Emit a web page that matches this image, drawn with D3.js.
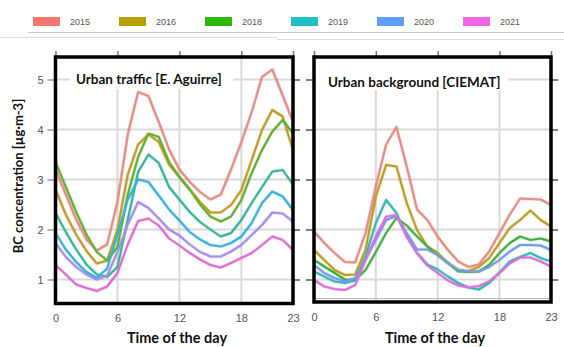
<!DOCTYPE html>
<html>
<head>
<meta charset="utf-8">
<script src="https://cdn.jsdelivr.net/npm/d3@7"></script>
<style>
  html, body { margin: 0; padding: 0; background: #fff; }
  svg { display: block; }
</style>
</head>
<body>
<svg id="chart" width="564" height="347"></svg>
<script>
// Hour of day (x categories) and tick labels
const hours = d3.range(24);
const xTickValues = [0, 6, 12, 18, 23];
const yTickValues = [1, 2, 3, 4, 5];

// Legend entries
const legendYears = ["2015", "2016", "2018", "2019", "2020", "2021"];
const legendColors = ["#F8766D", "#B79F00", "#2DB800", "#21BEC4", "#619CFF", "#F066E6"];

// Urban traffic station [E. Aguirre], mean BC by hour (µg·m-3)
const trafficYears = ["2015", "2016", "2017", "2018", "2019", "2020", "2021"];
const trafficColors = ["#EC8A80", "#C29B1E", "#5CB426", "#2DB897", "#2FB4E6", "#A88CF2", "#E468D6"];
const traffic2015 = [3.20, 2.70, 2.20, 1.80, 1.58, 1.70, 2.55, 3.90, 4.75, 4.67, 4.15, 3.60, 3.20, 2.95, 2.75, 2.60, 2.70, 3.20, 3.75, 4.35, 5.05, 5.20, 4.68, 4.15];
const traffic2016 = [2.80, 2.30, 1.90, 1.57, 1.32, 1.38, 2.00, 3.10, 3.70, 3.90, 3.75, 3.30, 3.05, 2.80, 2.55, 2.34, 2.34, 2.49, 2.79, 3.39, 3.99, 4.39, 4.26, 3.59];
const traffic2017 = [3.35, 2.85, 2.35, 1.90, 1.55, 1.38, 1.65, 2.70, 3.45, 3.92, 3.85, 3.35, 3.05, 2.80, 2.50, 2.26, 2.16, 2.26, 2.59, 3.13, 3.59, 3.96, 4.19, 3.92];
const traffic2018 = [2.33, 1.95, 1.60, 1.30, 1.10, 1.05, 1.25, 2.20, 3.15, 3.50, 3.33, 2.85, 2.60, 2.35, 2.15, 2.00, 1.86, 1.93, 2.19, 2.53, 2.85, 3.16, 3.19, 2.90];
const traffic2019 = [1.93, 1.60, 1.35, 1.15, 1.03, 1.22, 1.90, 2.60, 3.00, 2.95, 2.68, 2.40, 2.18, 1.95, 1.80, 1.69, 1.66, 1.73, 1.86, 2.13, 2.53, 2.76, 2.66, 2.39];
const traffic2020 = [1.73, 1.45, 1.25, 1.10, 1.00, 1.08, 1.55, 2.10, 2.55, 2.43, 2.22, 2.00, 1.88, 1.70, 1.55, 1.46, 1.46, 1.56, 1.69, 1.89, 2.09, 2.34, 2.32, 2.16];
const traffic2021 = [1.29, 1.10, 0.90, 0.83, 0.77, 0.86, 1.13, 1.70, 2.17, 2.22, 2.08, 1.82, 1.68, 1.53, 1.40, 1.29, 1.24, 1.33, 1.43, 1.53, 1.69, 1.86, 1.79, 1.59];

// Urban background station [CIEMAT], mean BC by hour (µg·m-3)
const backgroundYears = ["2015", "2016", "2018", "2019", "2020", "2021"];
const backgroundColors = ["#EC8A80", "#BCA012", "#3DB23A", "#2EB9BF", "#6E9DF0", "#E26BDE"];
const background2015 = [1.96, 1.73, 1.53, 1.35, 1.34, 1.93, 2.86, 3.70, 4.05, 3.26, 2.40, 2.19, 1.86, 1.59, 1.36, 1.25, 1.30, 1.56, 1.93, 2.30, 2.62, 2.61, 2.60, 2.49];
const background2016 = [1.59, 1.39, 1.19, 1.09, 1.10, 1.59, 2.66, 3.29, 3.26, 2.53, 1.99, 1.66, 1.53, 1.33, 1.19, 1.17, 1.25, 1.43, 1.73, 2.03, 2.19, 2.38, 2.19, 2.06];
const background2018 = [1.39, 1.26, 1.13, 1.00, 0.99, 1.19, 1.55, 1.93, 2.23, 2.08, 1.86, 1.66, 1.49, 1.33, 1.16, 1.15, 1.16, 1.29, 1.53, 1.73, 1.86, 1.79, 1.82, 1.76];
const background2019 = [1.16, 1.06, 0.96, 0.93, 0.98, 1.46, 2.13, 2.59, 2.33, 1.86, 1.53, 1.30, 1.20, 1.06, 0.93, 0.84, 0.80, 0.93, 1.14, 1.36, 1.45, 1.53, 1.43, 1.36];
const background2020 = [1.29, 1.13, 1.03, 0.96, 1.03, 1.40, 1.79, 2.19, 2.27, 1.93, 1.60, 1.60, 1.49, 1.33, 1.19, 1.16, 1.16, 1.25, 1.39, 1.56, 1.69, 1.69, 1.68, 1.59];
const background2021 = [0.99, 0.86, 0.81, 0.79, 0.89, 1.39, 1.86, 2.26, 2.29, 1.86, 1.53, 1.28, 1.13, 0.98, 0.88, 0.84, 0.87, 0.96, 1.13, 1.32, 1.44, 1.44, 1.36, 1.26];

const trafficSeries = [traffic2015, traffic2016, traffic2017, traffic2018, traffic2019, traffic2020, traffic2021];
const backgroundSeries = [background2015, background2016, background2018, background2019, background2020, background2021];

const svg = d3.select("#chart");
const GRID = "#d9d9d9";
const LABEL_FONT = "Lato, 'Open Sans', sans-serif";

// ---- legend strip ----
const legendScale = d3.scalePoint().domain(legendYears).range([33, 463]);
const legend = svg.append("g");
legend.selectAll("rect").data(legendYears).join("rect")
  .attr("x", d => legendScale(d)).attr("y", 17)
  .attr("width", 27).attr("height", 9)
  .attr("fill", (d, i) => legendColors[i]);
legend.selectAll("text").data(legendYears).join("text")
  .attr("x", d => legendScale(d) + 37).attr("y", 24.5)
  .attr("font-family", "'Liberation Sans', Arial, sans-serif")
  .attr("font-size", 9).attr("fill", "#555")
  .text(d => d);
svg.append("line").attr("x1", 28).attr("x2", 564).attr("y1", 32.5).attr("y2", 32.5)
  .attr("stroke", "#c8c8c8").attr("stroke-width", 1);
svg.append("line").attr("x1", 0).attr("x2", 277).attr("y1", 37.5).attr("y2", 37.5)
  .attr("stroke", "#dcdcdc").attr("stroke-width", 1);
svg.append("line").attr("x1", 277).attr("x2", 564).attr("y1", 39.5).attr("y2", 39.5)
  .attr("stroke", "#dcdcdc").attr("stroke-width", 1);

// ---- one panel ----
function drawPanel(opts) {
  const { left, right, top, bottom, series, colors, title, titleBox, showYLabels } = opts;
  const x = d3.scaleLinear().domain([0, 23]).range([left, right]);
  const y = d3.scaleLinear().domain([opts.yMin, 5.45]).range([bottom, top]);
  const g = svg.append("g");

  // grid
  g.append("g").selectAll("line").data(yTickValues).join("line")
    .attr("x1", left).attr("x2", right)
    .attr("y1", d => y(d)).attr("y2", d => y(d))
    .attr("stroke", GRID).attr("stroke-width", 2);
  g.append("g").selectAll("line").data([6, 12, 18]).join("line")
    .attr("x1", d => x(d)).attr("x2", d => x(d))
    .attr("y1", top).attr("y2", bottom)
    .attr("stroke", GRID).attr("stroke-width", 2);

  // white backing behind the panel title
  g.append("rect")
    .attr("x", titleBox[0]).attr("y", top)
    .attr("width", titleBox[1] - titleBox[0]).attr("height", titleBox[2] - top)
    .attr("fill", "#fff");

  if (opts.innerBase) {
    g.append("line").attr("x1", left).attr("x2", right)
      .attr("y1", opts.innerBase).attr("y2", opts.innerBase)
      .attr("stroke", "#bdbdbd").attr("stroke-width", 1.2);
  }

  // axes
  const yAxis = d3.axisLeft(y).tickValues(yTickValues).tickSize(8).tickPadding(4)
    .tickFormat(showYLabels ? d3.format("d") : () => "");
  const ya = g.append("g").attr("transform", `translate(${left},0)`).call(yAxis);
  ya.select(".domain").remove();
  ya.selectAll(".tick line").attr("stroke", showYLabels ? "#9a9a9a" : "#555").attr("stroke-width", 1.5);
  ya.selectAll(".tick text").attr("fill", "#555").attr("font-size", 11)
    .attr("font-family", "'Liberation Sans', Arial, sans-serif");

  const yAxisR = d3.axisRight(y).tickValues(yTickValues).tickSize(7).tickFormat(() => "");
  const yr = g.append("g").attr("transform", `translate(${right},0)`).call(yAxisR);
  yr.select(".domain").remove();
  yr.selectAll(".tick line").attr("stroke", "#555").attr("stroke-width", 1.5);

  const xAxisTop = d3.axisTop(x).tickValues(xTickValues).tickSize(6).tickFormat(() => "");
  const xt = g.append("g").attr("transform", `translate(0,${top})`).call(xAxisTop);
  xt.select(".domain").remove();
  xt.selectAll(".tick line").attr("stroke", "#777").attr("stroke-width", 1.5);

  const xAxis = d3.axisBottom(x).tickValues(xTickValues).tickSize(0).tickPadding(11)
    .tickFormat(d3.format("d"));
  const xa = g.append("g").attr("transform", `translate(0,${bottom})`).call(xAxis);
  xa.select(".domain").remove();
  xa.selectAll(".tick text").attr("fill", "#555").attr("font-size", 11)
    .attr("font-family", "'Liberation Sans', Arial, sans-serif");

  // series lines
  const line = d3.line().x((d, i) => x(hours[i])).y(d => y(d));
  const lines = g.append("g");
  lines.selectAll("path.halo").data(series).join("path")
    .attr("class", "halo")
    .attr("d", line).attr("fill", "none")
    .attr("stroke", "#9a9a9a").attr("stroke-opacity", 0.28)
    .attr("stroke-width", 3.6).attr("stroke-linejoin", "round");
  lines.selectAll("path.series").data(series).join("path")
    .attr("class", "series")
    .attr("d", line).attr("fill", "none")
    .attr("stroke", (d, i) => colors[i])
    .attr("stroke-width", 2.1).attr("stroke-linejoin", "round");

  // frame
  g.append("rect")
    .attr("x", left).attr("y", top)
    .attr("width", right - left).attr("height", bottom - top)
    .attr("fill", "none").attr("stroke", "#000").attr("stroke-width", 3.5);

  // title
  g.append("text")
    .attr("x", opts.titleX).attr("y", opts.titleY)
    .attr("font-family", LABEL_FONT).attr("font-weight", 700)
    .attr("font-size", 13.5).attr("fill", "#111")
    .text(title);

  // x-axis title
  g.append("text")
    .attr("x", opts.xTitleX).attr("y", 343)
    .attr("text-anchor", "middle")
    .attr("font-family", LABEL_FONT).attr("font-weight", 700)
    .attr("font-size", 14.5).attr("fill", "#111")
    .text("Time of the day");
}

drawPanel({
  left: 55.5, right: 293, top: 57, bottom: 303.5, yMin: 0.52,
  series: trafficSeries, colors: trafficColors,
  title: "Urban traffic [E. Aguirre]", titleX: 76, titleY: 84,
  titleBox: [70, 233, 89], showYLabels: true, xTitleX: 177
});
drawPanel({
  left: 314, right: 551, top: 57, bottom: 302, yMin: 0.55,
  series: backgroundSeries, colors: backgroundColors,
  title: "Urban background [CIEMAT]", titleX: 328, titleY: 87,
  titleBox: [316, 508, 90], showYLabels: false, xTitleX: 435, innerBase: 298.5
});

// y-axis title
svg.append("text")
  .attr("transform", "translate(23,176) rotate(-90)")
  .attr("text-anchor", "middle")
  .attr("font-family", LABEL_FONT).attr("font-weight", 700)
  .attr("font-size", 13).attr("fill", "#111")
  .text("BC concentration [µg·m-3]");
</script>
</body>
</html>
